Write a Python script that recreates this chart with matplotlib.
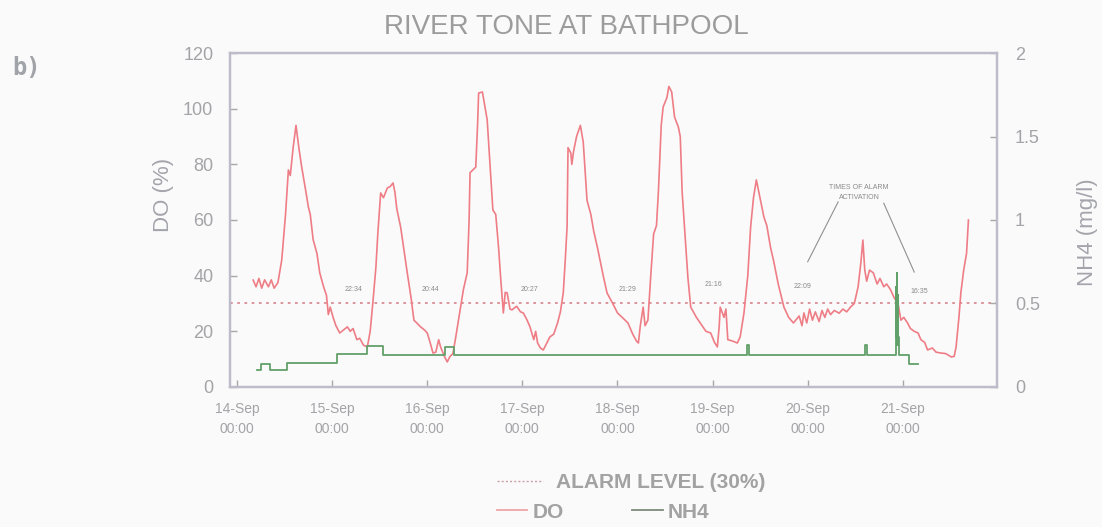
import numpy as np
import pandas as pd
import matplotlib
matplotlib.use('Agg')
import matplotlib.pyplot as plt
import matplotlib.dates as mdates
from matplotlib.ticker import FuncFormatter
from matplotlib.lines import Line2D

plt.rcParams['font.family'] = ['Liberation Sans', 'DejaVu Sans']

start = pd.Timestamp('1995-09-14 00:00')

# dissolved oxygen, days after 14-Sep 00:00 and % saturation
do_days = [0.17, 0.20, 0.23, 0.26, 0.29, 0.33, 0.36, 0.39, 0.43, 0.47, 0.51, 0.54, 0.56, 0.59,
           0.62, 0.65, 0.68, 0.72, 0.75, 0.77, 0.80, 0.84, 0.87, 0.91, 0.94, 0.96, 0.98, 1.01,
           1.04, 1.08, 1.12, 1.16, 1.19, 1.22, 1.26, 1.29, 1.33, 1.37, 1.40, 1.43, 1.46, 1.48,
           1.51, 1.54, 1.58, 1.61, 1.64, 1.66, 1.68, 1.72, 1.76, 1.79, 1.83, 1.86, 1.89, 1.93,
           1.97, 2.00, 2.03, 2.06, 2.09, 2.12, 2.14, 2.18, 2.21, 2.24, 2.27, 2.30, 2.35, 2.38,
           2.42, 2.44, 2.45, 2.48, 2.51, 2.53, 2.54, 2.58, 2.61, 2.63, 2.66, 2.69, 2.72, 2.75,
           2.77, 2.80, 2.82, 2.84, 2.87, 2.89, 2.94, 2.98, 3.01, 3.05, 3.08, 3.12, 3.14, 3.16,
           3.19, 3.22, 3.26, 3.29, 3.33, 3.37, 3.40, 3.43, 3.45, 3.47, 3.48, 3.51, 3.52, 3.54,
           3.57, 3.61, 3.64, 3.68, 3.72, 3.75, 3.79, 3.82, 3.85, 3.89, 3.95, 4.00, 4.05, 4.11,
           4.16, 4.20, 4.22, 4.24, 4.27, 4.29, 4.32, 4.35, 4.38, 4.41, 4.43, 4.46, 4.48, 4.52,
           4.54, 4.57, 4.60, 4.64, 4.66, 4.68, 4.71, 4.74, 4.77, 4.83, 4.87, 4.93, 4.98, 5.02,
           5.05, 5.07, 5.08, 5.12, 5.14, 5.16, 5.21, 5.26, 5.29, 5.33, 5.37, 5.40, 5.43, 5.46,
           5.51, 5.54, 5.57, 5.61, 5.64, 5.69, 5.75, 5.80, 5.85, 5.91, 5.94, 5.96, 5.99, 6.02,
           6.05, 6.08, 6.12, 6.15, 6.18, 6.21, 6.24, 6.28, 6.33, 6.37, 6.41, 6.45, 6.49, 6.53,
           6.56, 6.58, 6.60, 6.62, 6.65, 6.69, 6.73, 6.76, 6.80, 6.83, 6.87, 6.91, 6.95, 6.98,
           7.01, 7.05, 7.08, 7.12, 7.16, 7.19, 7.23, 7.26, 7.31, 7.35, 7.40, 7.45, 7.51, 7.54,
           7.56, 7.59, 7.61, 7.64, 7.67, 7.69]
do_pct = [38.4, 36, 39, 35.5, 38.5, 36, 38.5, 35.5, 37.5, 45.6, 62, 78, 76, 86,
          94, 86, 79, 71, 64.7, 62, 53, 48, 41, 36, 33, 26, 28.7, 25,
          22, 19.4, 20.5, 21.6, 20, 21, 17, 17.5, 15, 14.4, 20, 31, 43, 55,
          69.7, 68, 71.5, 72, 73.3, 70, 64, 57.5, 48, 41, 32, 24, 23, 21.6,
          20.5, 19.4, 16, 12.2, 12.5, 17, 14.4, 11, 9, 11, 12, 18, 28.7, 35,
          41, 60, 77, 78, 79, 95, 105.6, 106, 100, 96, 80, 63.6, 62, 50,
          40, 26.6, 34, 33.8, 28, 27.7, 29, 27, 26.6, 24, 21.6, 17, 20, 15.8,
          14, 13.3, 16, 18, 19, 23, 27, 33.8, 45, 57.5, 86, 84, 80, 85,
          90, 94, 88, 67, 62, 56, 50, 45, 40, 33.8, 30, 26.6, 25, 23,
          19, 16.5, 15.8, 22, 28.7, 22, 24, 40, 55, 58, 70, 94, 100.6, 104,
          108, 106, 97, 93.4, 90, 70, 55, 39.5, 28.7, 25, 23, 20, 19.4, 16,
          14.4, 22, 28.7, 25, 28, 17, 16.5, 15.8, 18, 26.6, 40, 57.5, 68, 74.4,
          66, 61, 58, 50, 45.6, 37, 28.7, 25, 23, 25.5, 22, 26.6, 23, 28,
          24, 27, 23.5, 27.5, 25, 28, 26, 27.5, 26.5, 28, 27, 28.7, 30, 36,
          45, 52.8, 42, 38, 42, 41, 37, 39, 36, 37, 35, 32, 30, 24,
          25, 23, 21, 20, 19.4, 17, 16, 13.3, 14, 12.5, 12.2, 12, 10.8, 11,
          14.4, 25, 33.8, 42, 48, 60]

# ammonia, mg/l (held until the next reading)
nh4_days = [0.21, 0.25, 0.32, 0.35, 0.53, 1.05, 1.37, 1.535, 2.185, 2.285, 5.36, 5.38,
            6.60, 6.62, 6.925, 6.93, 6.935, 6.94, 6.945, 6.95, 6.955, 7.065, 7.16]
nh4_mgl = [0.10, 0.14, 0.14, 0.10, 0.145, 0.20, 0.245, 0.19, 0.24, 0.19, 0.25, 0.19,
           0.25, 0.19, 0.60, 0.30, 0.68, 0.25, 0.55, 0.30, 0.19, 0.14, 0.14]

alarm_level = 30

# alarm activation times: label, day position, DO height
alarm_times = ['22:34', '20:44', '20:27', '21:29', '21:16', '22:09', '16:35']
alarm_days = [1.22, 2.03, 3.08, 4.11, 5.01, 5.95, 7.17]
alarm_y = [33.8, 33.8, 33.8, 33.8, 35.6, 34.8, 33.0]

grey = '#a4a4a8'
do_col = '#ee7d86'
nh4_col = '#62a06a'

fig = plt.figure(figsize=(11.02, 5.27), dpi=100, facecolor='#fafafa')
ax = fig.add_axes([0.2087, 0.2657, 0.6960, 0.6337])
ax.set_facecolor('#fafafa')
ax2 = ax.twinx()

do_t = start + pd.to_timedelta(do_days, unit='D')
nh4_t = start + pd.to_timedelta(nh4_days, unit='D')

ax.axhline(alarm_level, color='#d98c94', lw=1.3, dashes=(1.5, 2.5), zorder=1)
ax.plot(do_t, do_pct, color=do_col, lw=1.2, zorder=3)
ax2.plot(nh4_t, nh4_mgl, color=nh4_col, lw=1.3, drawstyle='steps-post', zorder=2)

ax.set_ylim(0, 120)
ax2.set_ylim(0, 2)
ax.set_yticks(np.arange(0, 121, 20))
ax2.set_yticks([0, 0.5, 1, 1.5, 2])
ax2.yaxis.set_major_formatter(FuncFormatter(lambda v, p: '%g' % v))

ax.set_xlim(start - pd.Timedelta(days=0.074), start + pd.Timedelta(days=7.99))
ax.set_xticks([start + pd.Timedelta(days=d) for d in range(8)])
ax.xaxis.set_major_formatter(mdates.DateFormatter('%d-%b\n%H:%M'))

for a in (ax, ax2):
    for s in a.spines.values():
        s.set_color('#bcbcca')
        s.set_linewidth(1.6)
ax.tick_params(axis='y', direction='in', length=5, width=1, color='#a8a8a8',
               labelsize=13, labelcolor=grey, pad=12)
ax.tick_params(axis='x', direction='in', length=5, width=1, color='#a8a8a8',
               labelsize=10, labelcolor=grey, pad=11)
ax2.tick_params(axis='y', direction='in', length=5, width=1, color='#a8a8a8',
                labelsize=13, labelcolor=grey, pad=13)
for lbl in ax.get_xticklabels():
    lbl.set_linespacing(1.5)

for txt, d, y in zip(alarm_times, alarm_days, alarm_y):
    ax.text(start + pd.Timedelta(days=d), y, txt, fontsize=5, color='#8a8a8a',
            ha='center', va='bottom')
ax.text(start + pd.Timedelta(days=6.54), 70, 'TIMES OF ALARM\nACTIVATION', fontsize=5,
        color='#8a8a8a', ha='center', va='center', linespacing=1.6)
ax.plot([start + pd.Timedelta(days=6.32), start + pd.Timedelta(days=6.0)], [66.5, 45],
        color='#909090', lw=0.8)
ax.plot([start + pd.Timedelta(days=6.80), start + pd.Timedelta(days=7.12)], [66, 41.3],
        color='#909090', lw=0.8)

fig.text(0.5136, 1 - 27 / 527, 'RIVER TONE AT BATHPOOL', fontsize=20, color='#9c9c9c',
         ha='center', va='center')
fig.text(12 / 1102, 1 - 68 / 527, 'b)', fontsize=17, color='#a0a4a8', fontweight='bold',
         family='DejaVu Sans Mono', ha='left', va='center')
fig.text(163 / 1102, 1 - 195 / 527, 'DO (%)', fontsize=16, color='#a4a4ac', rotation=90,
         ha='center', va='center')
fig.text(1088 / 1102, 1 - 232 / 527, 'NH4 (mg/l)', fontsize=16, color='#a4a4ac', rotation=90,
         ha='center', va='center')

# legend rows under the plot
alarm_h = Line2D([], [], color='#c8a0a8', lw=1, dashes=(1.5, 1.5))
do_h = Line2D([], [], color='#f0a4a6', lw=1.3)
nh4_h = Line2D([], [], color='#7c8c7c', lw=1.3)
leg_font = {'size': 15, 'weight': 'bold'}
leg1 = fig.legend([alarm_h], ['ALARM LEVEL (30%)'], loc='center left',
                  bbox_to_anchor=(497 / 1102, 1 - 483 / 527), frameon=False, prop=leg_font,
                  handlelength=2.2, handletextpad=0.65, borderpad=0, borderaxespad=0)
leg2 = fig.legend([do_h, nh4_h], ['DO', 'NH4'], loc='center left', ncol=2,
                  bbox_to_anchor=(497 / 1102, 1 - 512 / 527), frameon=False, prop=leg_font,
                  handlelength=1.45, handletextpad=0.25, columnspacing=3.3, borderpad=0,
                  borderaxespad=0)
for leg in (leg1, leg2):
    for t in leg.get_texts():
        t.set_color('#a2a2a2')

fig.savefig('out.png', dpi=100, facecolor=fig.get_facecolor())
